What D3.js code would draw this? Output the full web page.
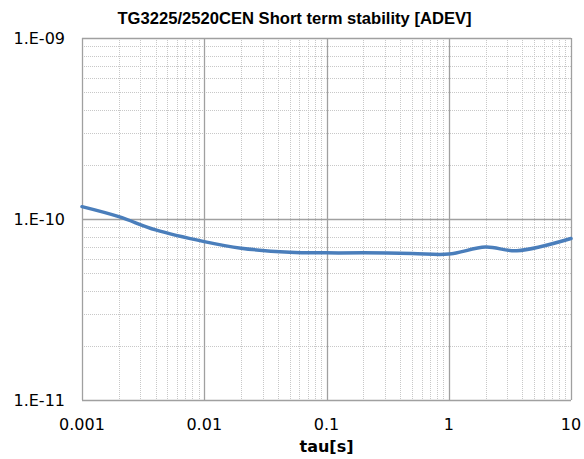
<!DOCTYPE html>
<html>
<head>
<meta charset="utf-8">
<script src="https://cdn.jsdelivr.net/npm/d3@7"></script>
<style>
	body { margin: 0; background: #fff; }
	svg { display: block; }
</style>
</head>
<body>
<svg id="chart" width="584" height="459"></svg>
<script>

// tau [s] and ADEV values
var tauVals = [ 0.001, 0.002, 0.004, 0.01, 0.02, 0.05, 0.1, 0.2, 0.5, 1, 2, 3.6, 10 ];
var adevVals = [ 1.17e-10, 1.03e-10, 0.87e-10, 0.75e-10, 0.69e-10, 0.655e-10, 0.65e-10, 0.65e-10, 0.645e-10, 0.64e-10, 0.70e-10, 0.668e-10, 0.78e-10 ];

var xTicks = [ 0.001, 0.01, 0.1, 1, 10 ];
var xTickLabels = [ '0.001', '0.01', '0.1', '1', '10' ];
var yTicks = [ 1e-11, 1e-10, 1e-9 ];
var yTickLabels = [ '1.E-11', '1.E-10', '1.E-09' ];

var chartTitle = 'TG3225/2520CEN Short term stability [ADEV]';
var xTitle = 'tau[s]';

function drawChart() {
	var svg = d3.select( '#chart' ),
		pLeft = 82, pRight = 571, pTop = 38, pBottom = 400;

	var x = d3.scaleLog().domain( [ 0.001, 10 ] ).range( [ pLeft, pRight ] ),
		y = d3.scaleLog().domain( [ 1e-11, 1e-9 ] ).range( [ pBottom, pTop ] );

	function px( _v ) { return Math.round( _v ) + 0.5; }

	// minor grid: 2..9 in each decade
	var minorX = [], minorY = [];
	xTicks.slice( 0, -1 ).forEach( function( _t ) {
		for ( var k = 2; k < 10; k++ ) minorX.push( _t * k );
	} );
	yTicks.slice( 0, -1 ).forEach( function( _t ) {
		for ( var k = 2; k < 10; k++ ) minorY.push( _t * k );
	} );

	var grid = svg.append( 'g' );

	grid.selectAll( 'line.minor-x' ).data( minorX ).enter().append( 'line' )
		.attr( 'x1', function( _d ) { return px( x( _d ) ); } )
		.attr( 'x2', function( _d ) { return px( x( _d ) ); } )
		.attr( 'y1', pTop ).attr( 'y2', pBottom )
		.attr( 'stroke', '#c8c8c8' ).attr( 'stroke-dasharray', '1,1' );

	grid.selectAll( 'line.minor-y' ).data( minorY ).enter().append( 'line' )
		.attr( 'y1', function( _d ) { return px( y( _d ) ); } )
		.attr( 'y2', function( _d ) { return px( y( _d ) ); } )
		.attr( 'x1', pLeft ).attr( 'x2', pRight )
		.attr( 'stroke', '#c8c8c8' ).attr( 'stroke-dasharray', '1,1' );

	grid.selectAll( 'line.major-x' ).data( xTicks ).enter().append( 'line' )
		.attr( 'x1', function( _d ) { return px( x( _d ) ); } )
		.attr( 'x2', function( _d ) { return px( x( _d ) ); } )
		.attr( 'y1', pTop ).attr( 'y2', pBottom )
		.attr( 'stroke', '#a0a0a0' ).attr( 'stroke-width', 1.3 );

	grid.selectAll( 'line.major-y' ).data( yTicks ).enter().append( 'line' )
		.attr( 'y1', function( _d ) { return px( y( _d ) ); } )
		.attr( 'y2', function( _d ) { return px( y( _d ) ); } )
		.attr( 'x1', pLeft ).attr( 'x2', pRight )
		.attr( 'stroke', '#a0a0a0' ).attr( 'stroke-width', 1.3 );

	// tick labels
	svg.selectAll( 'text.xlab' ).data( xTicks ).enter().append( 'text' )
		.attr( 'x', function( _d ) { return x( _d ); } )
		.attr( 'y', pBottom + 30 )
		.attr( 'text-anchor', 'middle' )
		.style( 'font', '16px "DejaVu Sans", sans-serif' )
		.attr( 'fill', '#000' )
		.text( function( _d, _i ) { return xTickLabels[ _i ]; } );

	svg.selectAll( 'text.ylab' ).data( yTicks ).enter().append( 'text' )
		.attr( 'x', pLeft - 17 )
		.attr( 'y', function( _d ) { return y( _d ) + 5.5; } )
		.attr( 'text-anchor', 'end' )
		.style( 'font', '16px "DejaVu Sans", sans-serif' )
		.attr( 'fill', '#000' )
		.text( function( _d, _i ) { return yTickLabels[ _i ]; } );

	// the curve, smoothed like the spreadsheet line
	var line = d3.line()
		.x( function( _d, _i ) { return x( tauVals[ _i ] ); } )
		.y( function( _d ) { return y( _d ); } )
		.curve( d3.curveCatmullRom.alpha( 0.5 ) );

	svg.append( 'path' )
		.datum( adevVals )
		.attr( 'd', line )
		.attr( 'fill', 'none' )
		.attr( 'stroke', '#4a7ebb' )
		.attr( 'stroke-width', 3.5 )
		.attr( 'stroke-linecap', 'round' );

	// titles
	svg.append( 'text' )
		.attr( 'x', 294.5 ).attr( 'y', 24 )
		.attr( 'text-anchor', 'middle' )
		.style( 'font', 'bold 16.6px "Liberation Sans", Arial, sans-serif' )
		.text( chartTitle );

	svg.append( 'text' )
		.attr( 'x', ( pLeft + pRight ) / 2 ).attr( 'y', 452 )
		.attr( 'text-anchor', 'middle' )
		.style( 'font', 'bold 16px "DejaVu Sans", sans-serif' )
		.text( xTitle );
}

drawChart();

</script>
</body>
</html>
